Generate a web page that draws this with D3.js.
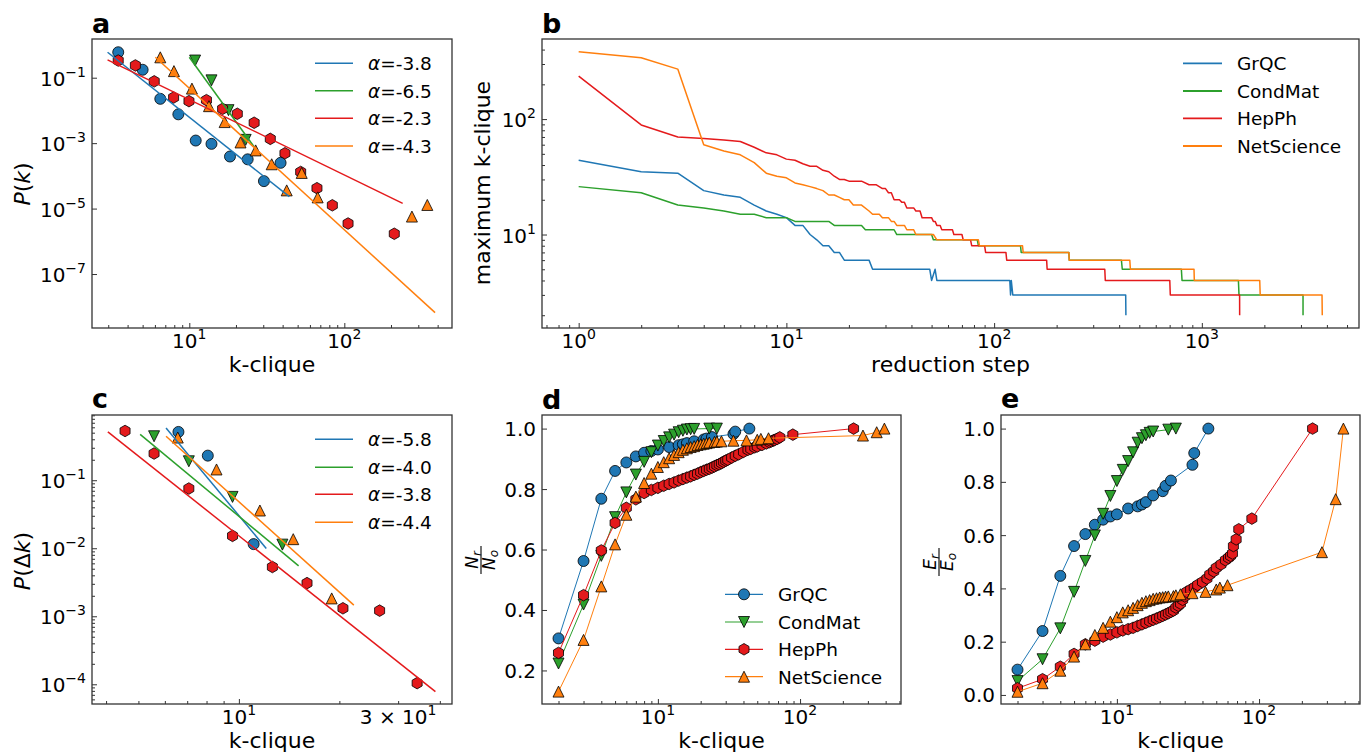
<!DOCTYPE html>
<html>
<head>
<meta charset="utf-8">
<script src="https://cdn.jsdelivr.net/npm/d3@7"></script>
<style>
  body { margin: 0; background: #fff; }
  svg text { font-family: "DejaVu Sans", sans-serif; fill: #000; }
</style>
</head>
<body>
<svg id="fig" width="1369" height="756"></svg>
<script>
// ---------------- data ----------------
const names = ["GrQC", "CondMat", "HepPh", "NetScience"];
const colors = ["#1f77b4", "#2ca02c", "#e41a1c", "#ff7f0e"];
const shapes = ["circle", "triDown", "hexagon", "triUp"];

// panel a: P(k) against k-clique, [k, P]
const aGrQC = [[3.48, 0.60], [5.0, 0.175], [6.5, 0.0226], [8.5, 0.0076], [11.0, 1.2e-3], [13.9, 9.5e-4],
  [18.3, 3.9e-4], [23.8, 3.2e-4], [30.3, 6.9e-5], [38.8, 2.5e-4]];
const aCondMat = [[10.9, 0.335], [13.9, 0.083], [17.9, 0.0102], [23.1, 1.26e-3]];
const aHepPh = [[3.48, 0.335], [4.49, 0.237], [5.94, 0.0774], [7.92, 0.0248], [9.95, 0.0192], [12.9, 0.0206],
  [16.4, 0.0112], [20.4, 7.9e-3], [26.2, 4.2e-3], [33.3, 1.35e-3], [41.4, 4.9e-4], [52.3, 1.32e-4],
  [66.6, 4.2e-5], [83.7, 1.26e-5], [105.7, 3.5e-6], [210, 1.7e-6]];
const aNetScience = [[6.5, 0.42], [7.96, 0.159], [10.4, 0.0464], [13.4, 0.0135], [16.9, 4.4e-3], [21.4, 1.05e-3],
  [26.8, 6.0e-4], [34.0, 2.26e-4], [42.5, 3.6e-5], [53.1, 1.23e-4], [67.3, 2.2e-5], [273, 5.7e-6], [343, 1.29e-5]];
// fitted power laws, end points
const aFitGrQC = [[2.97, 0.60], [44.2, 2.31e-5]];
const aFitCondMat = [[10, 0.423], [26.1, 7.9e-4]];
const aFitHepPh = [[2.97, 0.351], [238, 1.45e-5]];
const aFitNetScience = [[6.04, 0.423], [385, 6.6e-9]];
const aAlpha = ["-3.8", "-6.5", "-2.3", "-4.3"];

// panel b: maximum k-clique per reduction step, runs [firstStep, lastStep, value]
const bGrQC = [[1, 1, 44], [2, 2, 35], [3, 3, 34], [4, 4, 24], [5, 5, 22], [6, 6, 21], [7, 7, 18], [8, 8, 16],
  [9, 9, 15], [10, 10, 14], [11, 12, 12], [13, 13, 10], [14, 14, 9], [15, 16, 8], [17, 18, 7], [19, 25, 6],
  [26, 49, 5], [50, 50, 4], [52, 52, 5], [53, 119, 4], [120, 120, 3], [121, 121, 4], [123, 430, 3], [431, 431, 2]];
const bCondMat = [[1, 1, 26], [2, 2, 23], [3, 3, 18], [4, 4, 17], [5, 5, 16], [6, 7, 15], [8, 10, 14], [11, 16, 13],
  [17, 23, 12], [24, 33, 11], [34, 50, 10], [51, 83, 9], [84, 134, 8], [135, 229, 7], [230, 410, 6],
  [414, 797, 5], [803, 1500, 4], [1510, 3070, 3], [3071, 3071, 2]];
const bHepPh = [[1, 1, 236], [2, 2, 89], [3, 3, 70], [4, 4, 68], [5, 5, 66], [6, 6, 64], [7, 7, 57], [8, 8, 51],
  [9, 9, 49], [10, 10, 45], [11, 11, 44], [12, 12, 41], [13, 14, 39], [15, 15, 36], [16, 16, 35], [17, 17, 32],
  [18, 19, 30], [20, 23, 29], [25, 27, 27], [29, 30, 25], [31, 32, 23], [33, 35, 20], [36, 37, 19], [38, 41, 17],
  [42, 44, 16], [45, 50, 14], [51, 52, 13], [53, 55, 12], [56, 63, 11], [64, 70, 10], [71, 77, 9], [78, 90, 8],
  [91, 114, 7], [115, 179, 6], [180, 341, 5], [343, 701, 4], [705, 1520, 3], [1521, 1521, 2]];
const bNetScience = [[1, 1, 384], [2, 2, 340], [3, 3, 271], [4, 4, 60], [5, 5, 53], [6, 6, 49], [7, 7, 42],
  [8, 8, 34], [9, 9, 32], [10, 10, 31], [11, 11, 28], [12, 12, 27], [13, 13, 26], [14, 14, 25], [15, 15, 24],
  [16, 17, 22], [18, 18, 21], [19, 20, 20], [21, 23, 18], [25, 25, 16], [26, 28, 15], [29, 31, 14], [32, 33, 13],
  [34, 37, 12], [38, 41, 11], [42, 51, 10], [53, 84, 9], [85, 137, 8], [138, 229, 7], [230, 450, 6],
  [453, 917, 5], [920, 1900, 4], [1910, 3790, 3], [3800, 3800, 2]];

// panel c: P(delta k), [k, P]
const cGrQC = [[6.59, 0.513], [8.07, 0.23], [11.07, 0.0115]];
const cCondMat = [[5.57, 0.443], [7.08, 0.19], [9.57, 0.0569], [13.5, 0.0113]];
const cHepPh = [[4.56, 0.53], [5.57, 0.247], [7.08, 0.0755], [9.57, 0.0152], [12.6, 5.3e-3], [16.0, 3.07e-3],
  [20.5, 1.31e-3], [26.4, 1.21e-3], [34.2, 1.04e-4]];
const cNetScience = [[6.56, 0.424], [8.57, 0.144], [11.56, 0.0359], [14.55, 0.0136], [18.97, 1.83e-3]];
const cFitGrQC = [[6.05, 0.586], [12.08, 9.9e-3]];
const cFitCondMat = [[5.06, 0.473], [15.1, 5.52e-3]];
const cFitHepPh = [[4.05, 0.513], [38.8, 7.8e-5]];
const cFitNetScience = [[6.05, 0.443], [22.1, 1.46e-3]];
const cAlpha = ["-5.8", "-4.0", "-3.8", "-4.4"];

// panels d and e: k-clique sizes and ratios
const kGrQC = [2, 3, 4, 5, 6, 7, 8, 9, 10, 12, 14, 15, 16, 18, 21, 22, 24, 34, 35, 44];
const dGrQC = [0.306, 0.562, 0.768, 0.86, 0.888, 0.908, 0.92, 0.926, 0.931, 0.939, 0.945, 0.948, 0.952, 0.958,
  0.964, 0.967, 0.972, 0.982, 0.99, 1.0];
const eGrQC = [0.095, 0.24, 0.447, 0.559, 0.604, 0.639, 0.658, 0.67, 0.678, 0.70, 0.708, 0.715, 0.724, 0.749,
  0.765, 0.785, 0.805, 0.864, 0.908, 1.0];

const kCondMat = [2, 3, 4, 5, 6, 7, 8, 9, 10, 11, 12, 13, 14, 15, 16, 17, 18, 23, 26];
const dCondMat = [0.223, 0.418, 0.579, 0.707, 0.789, 0.848, 0.89, 0.922, 0.944, 0.959, 0.971, 0.98, 0.988, 0.993,
  0.997, 0.998, 0.999, 1.0, 1.0];
const eCondMat = [0.052, 0.134, 0.25, 0.387, 0.503, 0.599, 0.68, 0.747, 0.803, 0.845, 0.878, 0.911, 0.947, 0.964,
  0.975, 0.984, 0.989, 0.996, 1.0];

const kHepPh = [2, 3, 4, 5, 6, 7, 8, 9, 10, 11, 12, 13, 14, 15, 16, 17, 18, 19, 20, 21, 22, 23, 24, 25, 26, 27, 28,
  29, 30, 31, 33, 35, 37, 40, 43, 45, 48, 50, 54, 58, 61, 63, 65, 66, 69, 72, 89, 238];
const dHepPh = [0.258, 0.449, 0.597, 0.688, 0.738, 0.766, 0.787, 0.797, 0.804, 0.811, 0.817, 0.822, 0.828, 0.833,
  0.838, 0.842, 0.847, 0.851, 0.856, 0.86, 0.864, 0.867, 0.871, 0.875, 0.879, 0.882, 0.886, 0.89, 0.894,
  0.897, 0.904, 0.91, 0.915, 0.923, 0.93, 0.933, 0.938, 0.941, 0.946, 0.951, 0.955, 0.958, 0.961, 0.962,
  0.966, 0.971, 0.98, 1.0];
const eHepPh = [0.025, 0.059, 0.106, 0.154, 0.19, 0.204, 0.219, 0.227, 0.235, 0.242, 0.247, 0.252, 0.259, 0.265,
  0.271, 0.277, 0.282, 0.287, 0.292, 0.297, 0.302, 0.307, 0.312, 0.317, 0.328, 0.335, 0.343, 0.357, 0.37,
  0.387, 0.395, 0.403, 0.413, 0.424, 0.437, 0.452, 0.464, 0.477, 0.49, 0.506, 0.515, 0.522, 0.531, 0.559,
  0.584, 0.622, 0.662, 1.0];

const kNetScience = [2, 3, 4, 5, 6, 7, 8, 9, 10, 11, 12, 13, 14, 15, 16, 17, 18, 19, 20, 21, 22, 23, 25, 26, 28,
  34, 42, 50, 53, 60, 277, 346, 392];
const dNetScience = [0.13, 0.301, 0.478, 0.617, 0.715, 0.775, 0.82, 0.851, 0.873, 0.889, 0.902, 0.913, 0.922, 0.93,
  0.935, 0.939, 0.942, 0.946, 0.948, 0.95, 0.952, 0.954, 0.956, 0.957, 0.958, 0.96, 0.961, 0.963, 0.966,
  0.968, 0.977, 0.988, 1.0];
const eNetScience = [0.012, 0.044, 0.091, 0.144, 0.19, 0.225, 0.252, 0.275, 0.292, 0.31, 0.318, 0.327, 0.337,
  0.346, 0.352, 0.356, 0.361, 0.363, 0.366, 0.367, 0.369, 0.37, 0.371, 0.374, 0.378, 0.382, 0.387, 0.396,
  0.403, 0.412, 0.536, 0.735, 1.0];

// ---------------- layout ----------------
const svg = d3.select("#fig");
const axisColor = "#333";
const boxA = {x: 92, y: 39, w: 360, h: 289};
const boxB = {x: 542, y: 39, w: 817, h: 289};
const boxC = {x: 92, y: 415, w: 360, h: 289};
const boxD = {x: 542, y: 415, w: 359, h: 289};
const boxE = {x: 1001, y: 415, w: 359, h: 289};

function markerPath(shape, s) {
  if (shape === "circle") return d3.symbol(d3.symbolCircle, Math.PI * s * s)();
  if (shape === "triUp") return `M0,${-s}L${s},${s}L${-s},${s}Z`;
  if (shape === "triDown") return `M0,${s}L${s},${-s}L${-s},${-s}Z`;
  const pts = d3.range(6).map(i => {
    const a = Math.PI / 2 + i * Math.PI / 3;
    return [s * 1.05 * Math.cos(a), s * 1.05 * Math.sin(a)];
  });
  return "M" + pts.map(p => p.join(",")).join("L") + "Z";
}

function logMinors(lo, hi) {
  const out = [];
  for (let e = Math.floor(Math.log10(lo)) - 1; e <= Math.ceil(Math.log10(hi)); e++) {
    for (let m = 2; m <= 9; m++) {
      const v = m * Math.pow(10, e);
      if (v > lo && v < hi) out.push(v);
    }
  }
  return out;
}

function panel(box) {
  return svg.append("g").attr("transform", `translate(${box.x},${box.y})`);
}

function ticks(g, box, x, y, xMajor, xMinor, yMajor, yMinor) {
  const bx = g.append("g").attr("transform", `translate(0,${box.h})`);
  bx.append("g").call(d3.axisBottom(x).tickValues(xMajor).tickSize(-5).tickFormat(""));
  bx.append("g").call(d3.axisBottom(x).tickValues(xMinor).tickSize(-3).tickFormat(""));
  const by = g.append("g");
  by.append("g").call(d3.axisLeft(y).tickValues(yMajor).tickSize(-5).tickFormat(""));
  by.append("g").call(d3.axisLeft(y).tickValues(yMinor).tickSize(-3).tickFormat(""));
  g.selectAll(".domain").remove();
  g.selectAll(".tick line").attr("stroke", axisColor).attr("stroke-width", 1);
  g.append("rect").attr("width", box.w).attr("height", box.h)
    .attr("fill", "none").attr("stroke", axisColor).attr("stroke-width", 1.3);
}

function powLabel(g, px, py, anchor, base, exp) {
  const t = g.append("text").attr("x", px).attr("y", py).attr("text-anchor", anchor)
    .style("font-size", "20px");
  t.append("tspan").text(base);
  t.append("tspan").attr("dy", -9).style("font-size", "14px").text(exp);
}

function xLogLabels(g, box, x, vals, texts) {
  vals.forEach((v, i) => powLabel(g, x(v), box.h + 20, "middle", texts[i][0], texts[i][1]));
}
function yLogLabels(g, y, vals, texts) {
  vals.forEach((v, i) => powLabel(g, -6, y(v) + 8, "end", texts[i][0], texts[i][1]));
}

function letter(t, px, py) {
  svg.append("text").attr("x", px).attr("y", py).style("font-size", "27px")
    .style("font-weight", "bold").text(t);
}

function xLabel(g, box, text, dy) {
  g.append("text").attr("x", box.w / 2).attr("y", dy).attr("text-anchor", "middle")
    .style("font-size", "22px").text(text);
}

function drawMarkers(g, pts, x, y, i) {
  g.append("g").selectAll("path").data(pts).join("path")
    .attr("transform", d => `translate(${x(d[0])},${y(d[1])})`)
    .attr("d", markerPath(shapes[i], 5.5))
    .attr("fill", colors[i]).attr("stroke", "#000").attr("stroke-width", 0.8);
}

function alphaLegend(g, x0, rows, alphas) {
  alphas.forEach((a, i) => {
    g.append("line").attr("x1", x0).attr("x2", x0 + 38).attr("y1", rows[i]).attr("y2", rows[i])
      .attr("stroke", colors[i]).attr("stroke-width", 1.6);
    const t = g.append("text").attr("x", x0 + 53).attr("y", rows[i] + 7).style("font-size", "18.5px");
    t.append("tspan").style("font-style", "italic").text("α");
    t.append("tspan").text("=" + a);
  });
}

// ---------------- panel a ----------------
{
  const g = panel(boxA);
  const x = d3.scaleLog().domain([2.357, 495]).range([0, boxA.w]);
  const y = d3.scaleLog().domain([1.524, 2.24e-9]).range([0, boxA.h]);
  ticks(g, boxA, x, y, [10, 100], logMinors(2.357, 495), [1e-1, 1e-3, 1e-5, 1e-7], []);
  xLogLabels(g, boxA, x, [10, 100], [["10", "1"], ["10", "2"]]);
  yLogLabels(g, y, [1e-1, 1e-3, 1e-5, 1e-7], [["10", "−1"], ["10", "−3"], ["10", "−5"], ["10", "−7"]]);
  const line = d3.line().x(d => x(d[0])).y(d => y(d[1]));
  const pts = [aGrQC, aCondMat, aHepPh, aNetScience];
  const fits = [aFitGrQC, aFitCondMat, aFitHepPh, aFitNetScience];
  pts.forEach((p, i) => drawMarkers(g, p, x, y, i));
  fits.forEach((f, i) => g.append("path").attr("d", line(f)).attr("fill", "none")
    .attr("stroke", colors[i]).attr("stroke-width", 1.5));
  alphaLegend(g, 315 - boxA.x, [63.3, 90.7, 118.3, 146].map(v => v - boxA.y), aAlpha);
  xLabel(g, boxA, "k-clique", 333);
  const yl = g.append("text").attr("transform", `translate(${30 - boxA.x},${184 - boxA.y}) rotate(-90)`)
    .attr("text-anchor", "middle").style("font-size", "22px");
  yl.append("tspan").style("font-style", "italic").text("P");
  yl.append("tspan").text("(");
  yl.append("tspan").style("font-style", "italic").text("k");
  yl.append("tspan").text(")");
  letter("a", 92, 33);
}

// ---------------- panel b ----------------
{
  const g = panel(boxB);
  const x = d3.scaleLog().domain([0.666, 5710]).range([0, boxB.w]);
  const y = d3.scaleLog().domain([494, 1.55]).range([0, boxB.h]);
  ticks(g, boxB, x, y, [1, 10, 100, 1000], logMinors(0.666, 5710), [10, 100], logMinors(1.55, 494));
  xLogLabels(g, boxB, x, [1, 10, 100, 1000], [["10", "0"], ["10", "1"], ["10", "2"], ["10", "3"]]);
  yLogLabels(g, y, [10, 100], [["10", "1"], ["10", "2"]]);
  const line = d3.line().x(d => x(d[0])).y(d => y(d[1]));
  const runs = [bGrQC, bCondMat, bHepPh, bNetScience];
  runs.forEach((r, i) => {
    const verts = [];
    r.forEach(([s0, s1, v]) => { verts.push([s0, v]); if (s1 > s0) verts.push([s1, v]); });
    g.append("path").attr("d", line(verts)).attr("fill", "none")
      .attr("stroke", colors[i]).attr("stroke-width", 1.5).attr("stroke-linejoin", "round");
  });
  const rows = [63.3, 91, 118.3, 146].map(v => v - boxB.y);
  names.forEach((n, i) => {
    g.append("line").attr("x1", 1183 - boxB.x).attr("x2", 1222 - boxB.x).attr("y1", rows[i]).attr("y2", rows[i])
      .attr("stroke", colors[i]).attr("stroke-width", 1.8);
    g.append("text").attr("x", 1237 - boxB.x).attr("y", rows[i] + 7).style("font-size", "18.5px").text(n);
  });
  xLabel(g, boxB, "reduction step", 333);
  g.append("text").attr("transform", `translate(${490 - boxB.x},${183 - boxB.y}) rotate(-90)`)
    .attr("text-anchor", "middle").style("font-size", "22px").text("maximum k-clique");
  letter("b", 542, 33);
}

// ---------------- panel c ----------------
{
  const g = panel(boxC);
  const x = d3.scaleLog().domain([3.63, 43.5]).range([0, boxC.w]);
  const y = d3.scaleLog().domain([0.91, 5.13e-5]).range([0, boxC.h]);
  ticks(g, boxC, x, y, [10], logMinors(3.63, 43.5), [1e-1, 1e-2, 1e-3, 1e-4], logMinors(5.13e-5, 0.91));
  xLogLabels(g, boxC, x, [10, 30], [["10", "1"], ["3 × 10", "1"]]);
  yLogLabels(g, y, [1e-1, 1e-2, 1e-3, 1e-4], [["10", "−1"], ["10", "−2"], ["10", "−3"], ["10", "−4"]]);
  const line = d3.line().x(d => x(d[0])).y(d => y(d[1]));
  const pts = [cGrQC, cCondMat, cHepPh, cNetScience];
  const fits = [cFitGrQC, cFitCondMat, cFitHepPh, cFitNetScience];
  pts.forEach((p, i) => drawMarkers(g, p, x, y, i));
  fits.forEach((f, i) => g.append("path").attr("d", line(f)).attr("fill", "none")
    .attr("stroke", colors[i]).attr("stroke-width", 1.5));
  alphaLegend(g, 315 - boxC.x, [439.3, 467.3, 494.3, 522.3].map(v => v - boxC.y), cAlpha);
  xLabel(g, boxC, "k-clique", 333);
  const yl = g.append("text").attr("transform", `translate(${30 - boxC.x},${561 - boxC.y}) rotate(-90)`)
    .attr("text-anchor", "middle").style("font-size", "22px");
  yl.append("tspan").style("font-style", "italic").text("P");
  yl.append("tspan").text("(Δ");
  yl.append("tspan").style("font-style", "italic").text("k");
  yl.append("tspan").text(")");
  letter("c", 92, 408);
}

// ---------------- panels d and e ----------------
function ratioLabel(px, py, letterName) {
  const g = svg.append("g").attr("transform", `translate(${px},${py}) rotate(-90)`);
  const num = g.append("text").attr("x", 0).attr("y", -3).attr("text-anchor", "middle").style("font-size", "17px");
  num.append("tspan").style("font-style", "italic").text(letterName);
  num.append("tspan").attr("dy", 3).style("font-size", "12px").style("font-style", "italic").text("r");
  g.append("line").attr("x1", -14).attr("x2", 14).attr("y1", 0).attr("y2", 0).attr("stroke", "#000").attr("stroke-width", 1.1);
  const den = g.append("text").attr("x", 0).attr("y", 14).attr("text-anchor", "middle").style("font-size", "17px");
  den.append("tspan").style("font-style", "italic").text(letterName);
  den.append("tspan").attr("dy", 3).style("font-size", "12px").style("font-style", "italic").text("o");
}

function ratioPanel(box, yDomain, yTicks, ks, vals, withLegend) {
  const g = panel(box);
  const x = d3.scaleLog().domain([1.531, 512.9]).range([0, box.w]);
  const y = d3.scaleLinear().domain(yDomain).range([0, box.h]);
  ticks(g, box, x, y, [10, 100], logMinors(1.531, 512.9), yTicks, []);
  xLogLabels(g, box, x, [10, 100], [["10", "1"], ["10", "2"]]);
  yTicks.forEach(v => g.append("text").attr("x", -6).attr("y", y(v) + 7.5).attr("text-anchor", "end")
    .style("font-size", "20px").text(d3.format(".1f")(v)));
  const line = d3.line().x(d => x(d[0])).y(d => y(d[1]));
  ks.forEach((k, i) => {
    const pts = k.map((kk, j) => [kk, vals[i][j]]);
    g.append("path").attr("d", line(pts)).attr("fill", "none").attr("stroke", colors[i]).attr("stroke-width", 1);
    drawMarkers(g, pts, x, y, i);
  });
  if (withLegend) {
    const rows = [594.3, 622, 649.3, 676.7].map(v => v - box.y);
    names.forEach((n, i) => {
      g.append("line").attr("x1", 725 - box.x).attr("x2", 763 - box.x).attr("y1", rows[i]).attr("y2", rows[i])
        .attr("stroke", colors[i]).attr("stroke-width", 1.2);
      g.append("path").attr("transform", `translate(${744 - box.x},${rows[i]})`)
        .attr("d", markerPath(shapes[i], 5.5)).attr("fill", colors[i]).attr("stroke", "#000").attr("stroke-width", 0.8);
      g.append("text").attr("x", 778 - box.x).attr("y", rows[i] + 7).style("font-size", "18.5px").text(n);
    });
  }
  xLabel(g, box, "k-clique", 333);
}

const kAll = [kGrQC, kCondMat, kHepPh, kNetScience];
ratioPanel(boxD, [1.045, 0.089], [0.2, 0.4, 0.6, 0.8, 1.0], kAll, [dGrQC, dCondMat, dHepPh, dNetScience], true);
ratioPanel(boxE, [1.051, -0.034], [0.0, 0.2, 0.4, 0.6, 0.8, 1.0], kAll, [eGrQC, eCondMat, eHepPh, eNetScience], false);
ratioLabel(481, 560, "N");
ratioLabel(939, 562, "E");
letter("d", 542, 409);
letter("e", 1001, 408);
</script>
</body>
</html>
